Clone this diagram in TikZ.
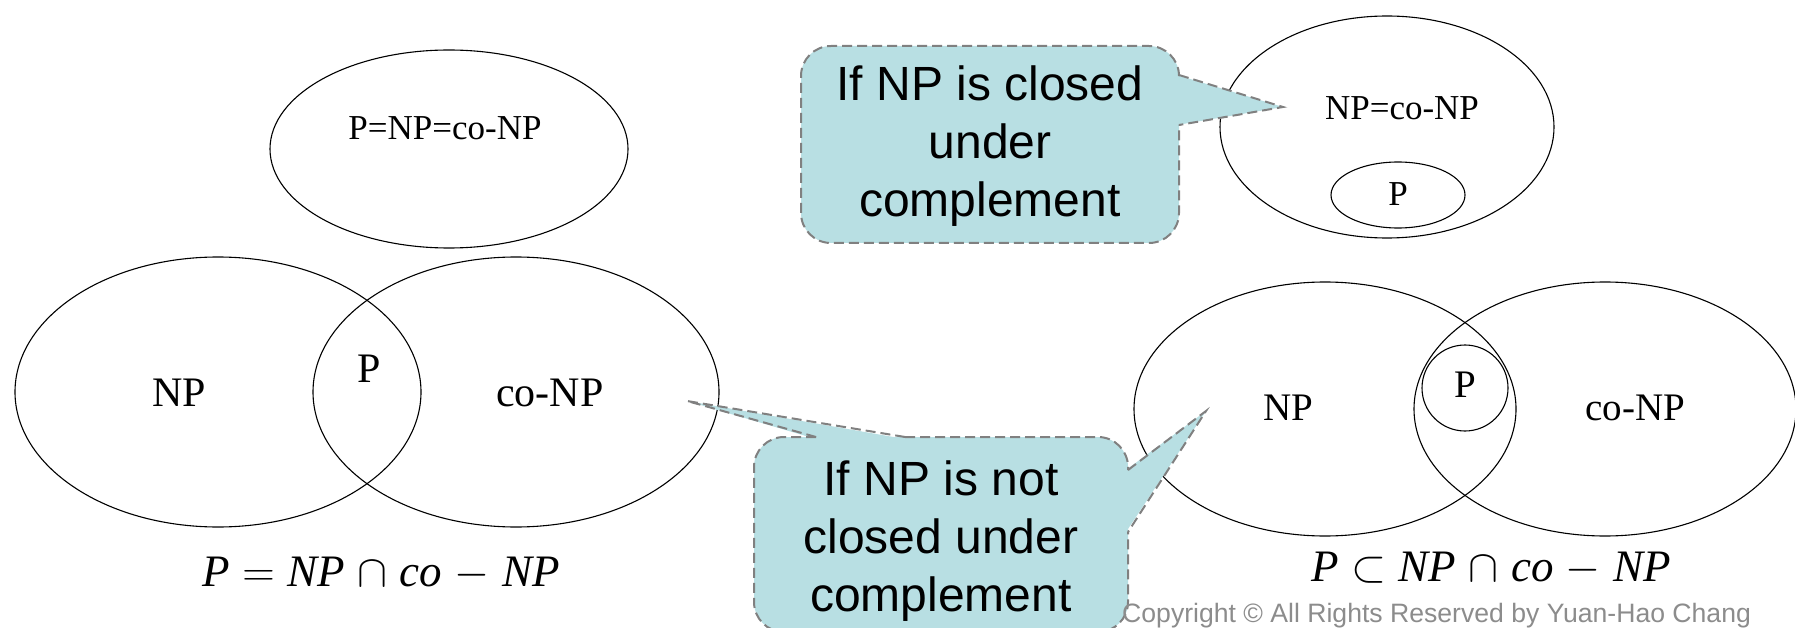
\RequirePackage{fix-cm}
\documentclass[tikz,border=0pt]{standalone}
\usepackage{fontspec}
\setmainfont{Liberation Serif}
\newfontfamily\calloutfont{Liberation Sans}
\usetikzlibrary{shapes.geometric}

\definecolor{bubble}{RGB}{184,223,227}
\definecolor{bubbleline}{RGB}{128,128,128}
\definecolor{notegray}{RGB}{140,140,140}

\tikzset{
  setline/.style={draw=black, line width=1.1pt},
  bubblefill/.style={fill=bubble},
  bubbleedge/.style={draw=bubbleline, line width=2pt, dash pattern=on 10pt off 5pt},
  bigset/.style={font=\fontsize{42}{48}\selectfont},
  smallset/.style={font=\fontsize{35}{40}\selectfont},
  rightset/.style={font=\fontsize{39}{44}\selectfont},
  bubbletext/.style={font=\calloutfont\fontsize{48}{58}\selectfont, align=center, text=black},
  formula/.style={font=\fontsize{45}{50}\selectfont},
}

\begin{document}
\begin{tikzpicture}[x=1pt, y=-1pt]
\useasboundingbox (0,0) rectangle (1795,628);

% ---- P = NP = co-NP ----
\draw[setline] (449,149) ellipse [x radius=179, y radius=99];
\node[smallset] (eq3) at (445,128) {P=NP=co-NP};

% ---- P = NP intersect co-NP ----
\draw[setline] (218,392) ellipse [x radius=203, y radius=135];
\draw[setline] (516,392) ellipse [x radius=203, y radius=135];
\node[bigset] (lnp) at (179,393) {NP};
\node[bigset] (lp) at (369,369) {P};
\node[bigset] (lconp) at (550,393) {co-NP};
\node[formula] (lform) at (381,574)
  {\itshape P\;$=$\;NP\;$\cap$\;co\;$-$\;NP};

% ---- NP = co-NP containing P ----
\draw[setline] (1387,127) ellipse [x radius=167, y radius=111];
\draw[setline] (1398,195) ellipse [x radius=67, y radius=33];
\node[smallset] (eq2) at (1402,108) {NP=co-NP};
\node[smallset] (tp) at (1398,194) {P};

% ---- P strictly inside NP intersect co-NP ----
\draw[setline] (1325,409) ellipse [x radius=191, y radius=127];
\draw[setline] (1605,409) ellipse [x radius=191, y radius=127];
\draw[setline] (1465,388) circle [radius=43];
\node[rightset] (rnp) at (1288,408) {NP};
\node[rightset] (rp) at (1465,385) {P};
\node[rightset] (rconp) at (1635,408) {co-NP};
\node[formula] (rform) at (1491,569)
  {\itshape P\;$\subset$\;NP\;$\cap$\;co\;$-$\;NP};

% ---- callout: closed under complement ----
\fill[bubblefill, rounded corners=30pt] (801,46) rectangle (1179,243);
\fill[bubblefill] (1177,75) -- (1283,107) -- (1177,125) -- cycle;
\draw[bubbleedge, rounded corners=30pt]
  (1179,75) -- (1179,46) -- (801,46) -- (801,243) -- (1179,243) -- (1179,125);
\draw[bubbleedge] (1179,75) -- (1283,107) -- (1179,125);
\node[bubbletext] (closed) at (990,146)
  {If NP is closed\\under\\complement};

% ---- callout: not closed under complement ----
\fill[bubblefill, rounded corners=30pt] (754,437) rectangle (1128,632);
\fill[bubblefill] (816,439) -- (687,401) -- (905,439) -- cycle;
\fill[bubblefill] (1126,470) -- (1206,411) -- (1126,532) -- cycle;
\draw[bubbleedge, rounded corners=30pt]
  (816,437) -- (754,437) -- (754,632) -- (1128,632) -- (1128,532);
\draw[bubbleedge, rounded corners=30pt]
  (905,437) -- (1128,437) -- (1128,470);
\draw[bubbleedge] (816,437) -- (687,401) -- (905,437);
\draw[bubbleedge] (1128,470) -- (1206,411) -- (1128,532);
\node[bubbletext] (notclosed) at (941,541)
  {If NP is not\\closed under\\complement};

% ---- copyright line ----
\node[font=\calloutfont\fontsize{26.6}{32}\selectfont, text=notegray, anchor=base west, inner sep=0pt]
  (copy) at (1122,622) {Copyright © All Rights Reserved by Yuan-Hao Chang};
\end{tikzpicture}
\end{document}
